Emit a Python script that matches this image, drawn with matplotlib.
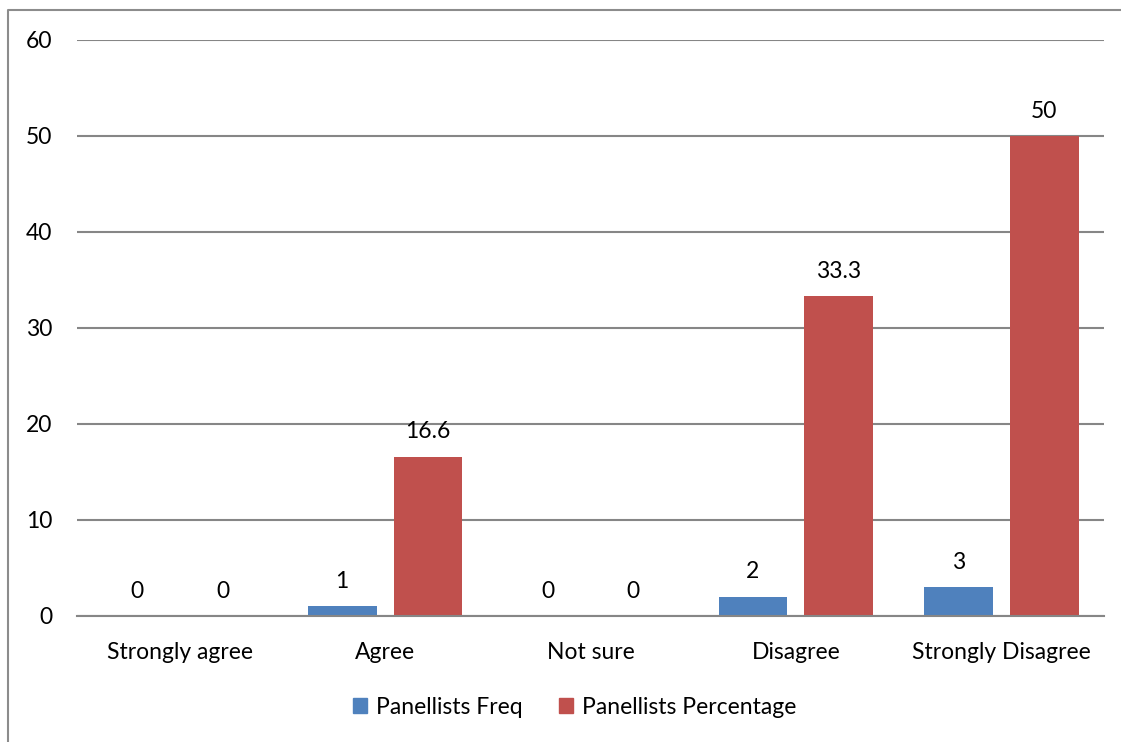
import numpy as np
import matplotlib
matplotlib.use('Agg')
import matplotlib.pyplot as plt
from matplotlib.lines import Line2D
from matplotlib.patches import Patch

# survey responses
categories = ['Strongly agree', 'Agree', 'Not sure', 'Disagree', 'Strongly Disagree']
freq = [0, 1, 0, 2, 3]
percentage = [0, 16.6, 0, 33.3, 50]
yticks = [0, 10, 20, 30, 40, 50, 60]

blue = '#4F81BD'
red = '#C0504D'
grid = '#868686'
fs = 16.5

plt.rcParams['font.family'] = ['Lato', 'DejaVu Sans']

fig = plt.figure(figsize=(11.21, 7.42), dpi=100)
ax = fig.add_axes([77/1121, 1 - 616/742, (1104 - 77)/1121, (616 - 40)/742])

x = np.arange(len(categories))
w = 0.335
off = 0.209
ax.bar(x - off, freq, w, color=blue, zorder=3)
ax.bar(x + off, percentage, w, color=red, zorder=3)

for xi, v in zip(x, freq):
    ax.text(xi - off, v + 1.5, f'{v:g}', ha='center', va='bottom', fontsize=fs)
for xi, v in zip(x, percentage):
    ax.text(xi + off, v + 1.5, f'{v:g}', ha='center', va='bottom', fontsize=fs)

ax.set_xlim(-0.5, len(categories) - 0.5)
ax.set_ylim(0, 60)
ax.set_yticks(yticks)
ax.set_xticks(x)
ax.set_xticklabels(categories, fontsize=fs)
ax.tick_params(axis='y', length=0, pad=18, labelsize=fs)
ax.tick_params(axis='x', length=0, pad=19)
ax.yaxis.grid(True, color=grid, linewidth=1.5, zorder=0)
for s in ['left', 'right', 'top']:
    ax.spines[s].set_visible(False)
ax.spines['bottom'].set_color(grid)
ax.spines['bottom'].set_linewidth(1.5)
ax.spines['bottom'].set_zorder(4)

handles = [Patch(color=blue, label='Panellists Freq'),
           Patch(color=red, label='Panellists Percentage')]
fig.legend(handles=handles, loc='center', bbox_to_anchor=(575/1121, 1 - 707/742),
           ncol=2, frameon=False, fontsize=fs, handlelength=0.6, handleheight=0.6,
           handletextpad=0.4, columnspacing=1.6)

# chart frame (left and top edges)
fig.add_artist(Line2D([8/1121, 8/1121, 1.0], [0, 1 - 10/742, 1 - 10/742],
                      transform=fig.transFigure, color='#8c8c8c', linewidth=1.5))

fig.savefig('out.png', dpi=100)
